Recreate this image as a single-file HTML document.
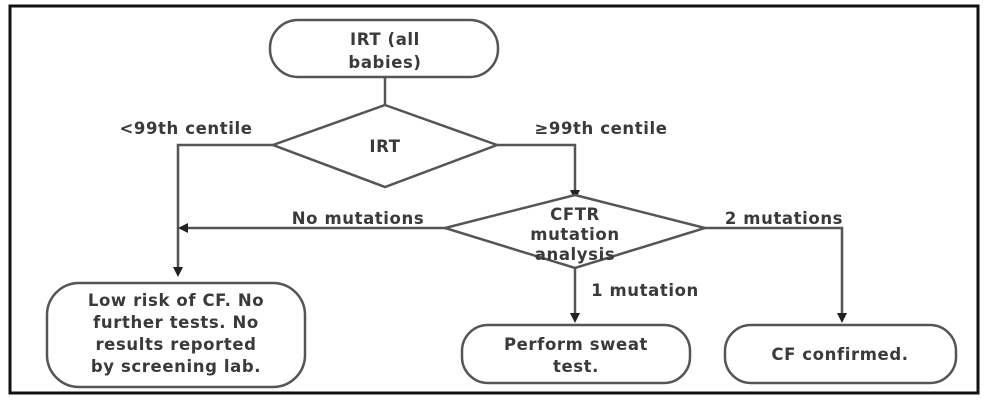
<!DOCTYPE html>
<html><head><meta charset="utf-8"><style>
body{margin:0;background:#fff;}
svg text{font-family:"DejaVu Sans","Liberation Sans",sans-serif;font-size:16.5px;font-weight:bold;letter-spacing:0.6px;fill:#3a3a3a;}
</style></head><body>
<svg width="988" height="400" xmlns="http://www.w3.org/2000/svg">
<defs><marker id="a" markerWidth="10" markerHeight="10" refX="5" refY="5" orient="auto" markerUnits="userSpaceOnUse"><path d="M0,0 L10,5 L0,10 z" fill="#222"/></marker></defs>
<rect x="10" y="6" width="968" height="387" fill="none" stroke="#111" stroke-width="3"/>
<g stroke="#555" stroke-width="2.5" fill="none">
<rect x="270" y="20" width="228" height="57" rx="28" fill="#fff"/>
<line x1="385" y1="77" x2="385" y2="105"/>
<polygon points="385,105 497,145 385,187 273,145" fill="#fff"/>
<polyline points="273,145 178,145 178,272" marker-end="url(#a)"/>
<polyline points="497,145 575,145 575,195" marker-end="url(#a)"/>
<polygon points="575,195 705,228 575,268 445,228" fill="#fff"/>
<line x1="445" y1="228" x2="183" y2="228" marker-end="url(#a)"/>
<polyline points="705,228 842,228 842,318" marker-end="url(#a)"/>
<line x1="575" y1="268" x2="575" y2="318" marker-end="url(#a)"/>
<rect x="47" y="283" width="258" height="104" rx="32" fill="#fff"/>
<rect x="462" y="325" width="228" height="58" rx="26" fill="#fff"/>
<rect x="725" y="325" width="231" height="58" rx="26" fill="#fff"/>
</g>
<g text-anchor="middle">
<text x="385" y="45">IRT (all</text><text x="385" y="68">babies)</text>
<text x="385" y="152">IRT</text>
<text x="186" y="134">&lt;99th centile</text>
<text x="601" y="134">≥99th centile</text>
<text x="575" y="220">CFTR</text><text x="575" y="240">mutation</text><text x="575" y="260">analysis</text>
<text x="358" y="224">No mutations</text>
<text x="784" y="224">2 mutations</text>
<text x="645" y="296">1 mutation</text>
<text x="176" y="306">Low risk of CF. No</text><text x="176" y="328">further tests. No</text><text x="176" y="350">results reported</text><text x="176" y="372">by screening lab.</text>
<text x="576" y="350">Perform sweat</text><text x="576" y="372">test.</text>
<text x="840" y="360">CF confirmed.</text>
</g>
</svg>
</body></html>
